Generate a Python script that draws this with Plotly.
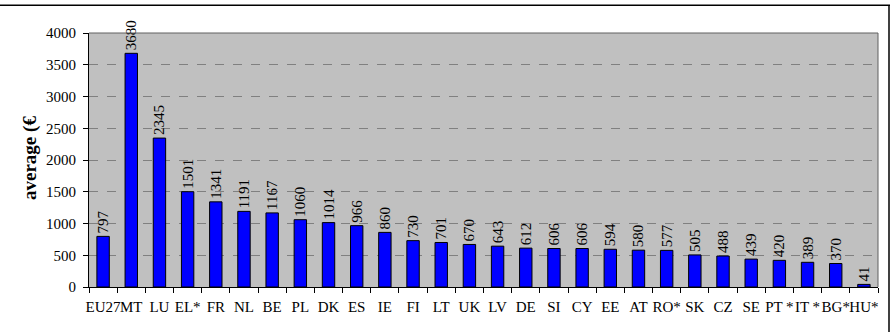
import plotly.graph_objects as go

categories = ["EU27", "MT", "LU", "EL*", "FR", "NL", "BE", "PL", "DK", "ES", "IE", "FI", "LT", "UK",
              "LV", "DE", "SI", "CY", "EE", "AT", "RO*", "SK", "CZ", "SE", "PT *", "IT *", "BG*", "HU*"]
values = [797, 3680, 2345, 1501, 1341, 1191, 1167, 1060, 1014, 966, 860, 730, 701, 670,
          643, 612, 606, 606, 594, 580, 577, 505, 488, 439, 420, 389, 370, 41]
y_ticks = [0, 500, 1000, 1500, 2000, 2500, 3000, 3500, 4000]
y_title = "average (€"

W, H = 894, 332
L, R, T, B = 89, 878, 33, 287
pw, ph = R - L, B - T

def px(x):
    return (x - L) / pw

def py(y):
    return (B - y) / ph

FONT = "Liberation Serif"

fig = go.Figure(go.Bar(
    x=categories, y=values,
    marker=dict(color="#0000FF", line=dict(color="#000000", width=1)),
    text=[str(v) for v in values], textposition="outside", textangle=-90,
    textfont=dict(family=FONT, size=15, color="#000000"),
    constraintext="none", cliponaxis=False,
))

fig.update_layout(
    width=W, height=H,
    margin=dict(l=L, r=W - R, t=T, b=H - B, pad=0),
    paper_bgcolor="#FFFFFF", plot_bgcolor="#C0C0C0",
    bargap=0.56, showlegend=False,
    font=dict(family=FONT, size=15, color="#000000"),
)
fig.update_xaxes(
    type="category", tickson="boundaries", ticks="outside", ticklen=5, tickcolor="#000000",
    showline=True, linecolor="#000000", linewidth=1, showgrid=False,
    tickfont=dict(family=FONT, size=15, color="#000000"), tickangle=0,
    ticklabelstandoff=6,
)
fig.update_yaxes(
    range=[0, 4000], tickvals=y_ticks, ticks="outside", ticklen=5, tickcolor="#000000",
    showline=True, linecolor="#000000", linewidth=1,
    showgrid=True, gridcolor="#808080", griddash="dash", gridwidth=1,
    zeroline=False, tickfont=dict(family=FONT, size=15, color="#000000"),
    ticklabelstandoff=4,
)

# plot-area border (top/right) in dark gray
fig.add_shape(type="line", xref="paper", yref="paper", x0=0, x1=1, y0=1, y1=1,
              line=dict(color="#606060", width=1))
fig.add_shape(type="line", xref="paper", yref="paper", x0=1, x1=1, y0=0, y1=1,
              line=dict(color="#606060", width=1))
# outer chart border: top edge as a thin filled band, right edge as a line
fig.add_shape(type="rect", xref="paper", yref="paper",
              x0=px(0), x1=px(890), y0=py(6), y1=py(4.5),
              line=dict(width=0), fillcolor="#000000", layer="above")
fig.add_shape(type="line", xref="paper", yref="paper", x0=px(889), x1=px(889), y0=py(5), y1=py(340),
              line=dict(color="#000000", width=1.5), layer="above")

fig.add_annotation(text="<b>" + y_title + "</b>", xref="paper", yref="paper",
                   x=px(30), y=py(158), textangle=-90, showarrow=False,
                   font=dict(family=FONT, size=19, color="#000000"),
                   xanchor="center", yanchor="middle")

fig.write_html("out.html", config={"displayModeBar": False})
